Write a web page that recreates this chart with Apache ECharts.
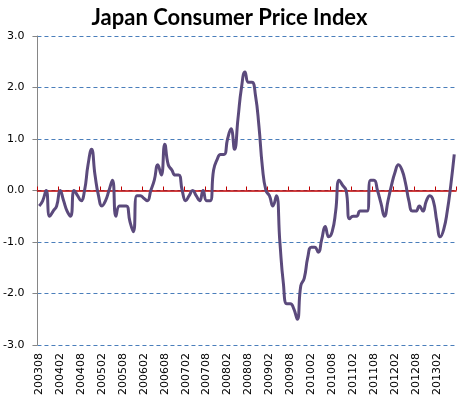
<!DOCTYPE html>
<html>
<head>
<meta charset="utf-8">
<script src="https://cdn.jsdelivr.net/npm/echarts@6/dist/echarts.min.js"></script>
<style>
  html, body { margin: 0; padding: 0; background: #fff; }
  #chart { width: 459px; height: 399px; }
</style>
</head>
<body>
<div id="chart"></div>
<script>
// monthly months 200308 .. 201307
var months = [];
for (var y = 2003, m = 8; months.length < 120; m++) {
  if (m > 12) { m = 1; y++; }
  months.push(String(y) + (m < 10 ? '0' + m : m));
}

var cpiValues = [
  -0.3, -0.2, 0.0, -0.5, -0.4, -0.3, 0.0, -0.2, -0.4, -0.5,
  0.0, -0.1, -0.2, 0.0, 0.5, 0.8, 0.3, -0.1, -0.3, -0.2,
  0.0, 0.2, -0.5, -0.3, -0.3, -0.3, -0.6, -0.8, -0.1, -0.1,
  -0.15, -0.2, 0.0, 0.2, 0.5, 0.3, 0.9, 0.5, 0.4, 0.3,
  0.3, 0.0, -0.2, -0.1, 0.0, -0.1, -0.2, 0.0, -0.2, -0.2,
  0.4, 0.6, 0.7, 0.7, 1.0, 1.2, 0.8, 1.4, 2.0, 2.3,
  2.1, 2.1, 1.85, 1.25, 0.45, 0.0, -0.1, -0.3, -0.1, -1.0,
  -1.8, -2.2, -2.2, -2.3, -2.5, -1.85, -1.7, -1.3, -1.1, -1.1,
  -1.2, -0.95, -0.7, -0.9, -0.8, -0.4, 0.2, 0.1, 0.0, -0.55,
  -0.5, -0.5, -0.4, -0.4, -0.4, 0.2, 0.2, 0.0, -0.25, -0.5,
  -0.2, 0.1, 0.35, 0.5, 0.4, 0.15, -0.2, -0.4, -0.4, -0.3,
  -0.4, -0.2, -0.1, -0.2, -0.6, -0.9, -0.75, -0.4, 0.1, 0.7
];

var yTicks = [-3, -2, -1, 0, 1, 2, 3];

var chart = echarts.init(document.getElementById('chart'));
chart.setOption({
  animation: false,
  title: {
    text: 'Japan Consumer Price Index',
    left: 'center',
    top: 2,
    textStyle: {
      fontFamily: 'Lato',
      fontWeight: 'bold',
      fontSize: 22,
      color: '#000'
    }
  },
  grid: { left: 33, right: 3, top: 36, bottom: 54 },
  xAxis: [
    {
      type: 'category',
      data: months,
      boundaryGap: true,
      axisLine: { show: false, onZero: false },
      axisTick: { show: false },
      axisLabel: {
        interval: 5,
        rotate: 90,
        margin: 8,
        fontFamily: 'DejaVu Sans',
        fontSize: 11,
        color: '#000'
      }
    },
    {
      type: 'category',
      data: months,
      boundaryGap: true,
      axisLine: { show: true, onZero: true, lineStyle: { color: '#c00000', width: 1.5 } },
      axisTick: { show: true, interval: 5, length: 4, lineStyle: { color: '#c00000', width: 1 } },
      axisLabel: { show: false }
    }
  ],
  yAxis: {
    type: 'value',
    min: yTicks[0],
    max: yTicks[yTicks.length - 1],
    interval: 1,
    axisLine: { show: true, lineStyle: { color: '#868686' } },
    axisTick: { show: true, length: 5, lineStyle: { color: '#868686' } },
    axisLabel: {
      margin: 13,
      fontFamily: 'DejaVu Sans',
      fontSize: 11,
      color: '#000',
      formatter: function (v) { return v.toFixed(1); }
    },
    splitLine: {
      show: true,
      lineStyle: { color: '#4a7ebb', type: [4, 3], width: 1 }
    }
  },
  series: [
    {
      type: 'line',
      xAxisIndex: 0,
      data: cpiValues,
      smooth: 0.5,
      showSymbol: false,
      lineStyle: { color: '#5b4a7c', width: 3 }
    }
  ]
});
</script>
</body>
</html>
